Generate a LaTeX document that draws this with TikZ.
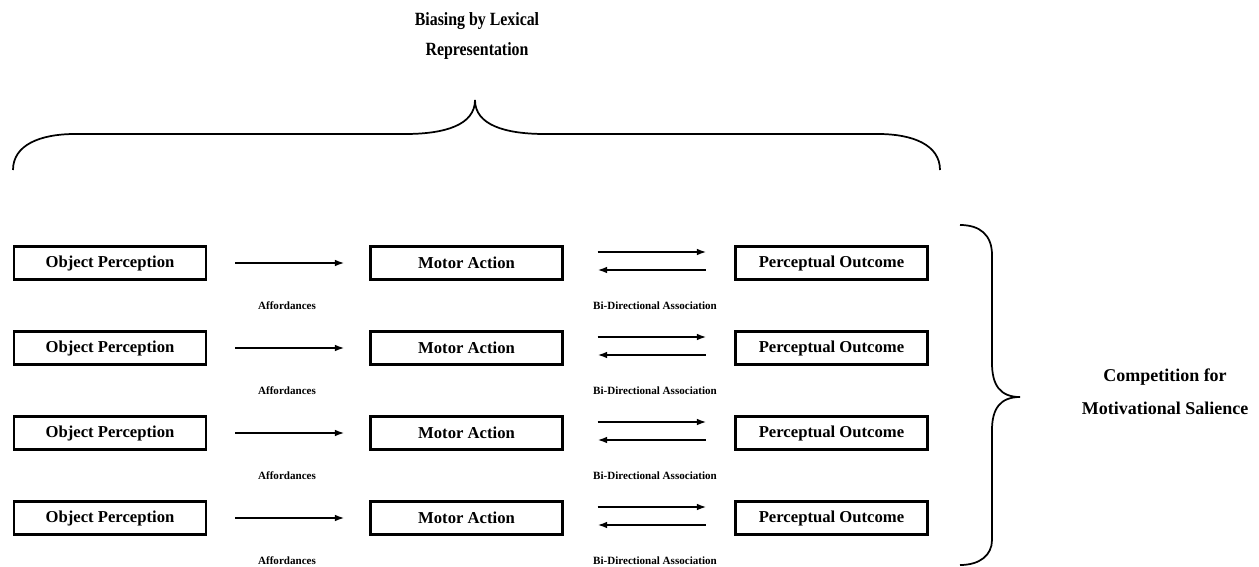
\documentclass[tikz,border=0pt]{standalone}
\usepackage{fontspec}
\setmainfont{Liberation Serif}
\newfontfamily\titlefont[FakeStretch=0.85]{Liberation Serif}
\usetikzlibrary{arrows.meta}

\begin{document}
\begin{tikzpicture}[x=0.75pt,y=-0.75pt,>={Latex[length=7pt,width=5pt]},
  blk/.style={draw,line width=1.8pt,minimum width=144pt,minimum height=24.5pt,inner sep=0pt,font=\fontsize{12.5pt}{14pt}\selectfont\bfseries},
  lbl/.style={font=\fontsize{8.3pt}{10pt}\selectfont\bfseries},
  conn/.style={line width=1.3pt}]
\useasboundingbox (0,0) rectangle (1259,567);

\node[align=center,font=\fontsize{14pt}{22.5pt}\selectfont\titlefont\bfseries] (bias) at (477,36) {Biasing by Lexical\\Representation};

% brace over the three columns
\draw[line width=1.3pt] (13,170) .. controls (13,145) and (40,134) .. (75,134) -- (405,134)
  .. controls (445,134) and (475,125) .. (475,100)
  .. controls (475,125) and (505,134) .. (545,134) -- (878,134)
  .. controls (913,134) and (940,145) .. (940,170);

\foreach \y [count=\i] in {263,348,433,518}
{
    \node[blk] (obj\i) at (110,\y) {Object Perception};
    \node[blk] (mot\i) at (466.5,\y) {Motor Action};
    \node[blk] (out\i) at (831.5,\y) {Perceptual Outcome};
    \draw[conn,->,shorten <=21pt,shorten >=18.75pt] (obj\i) -- (mot\i);
    \draw[conn,->,shorten <=25.5pt,shorten >=21pt] ([yshift=8.25pt]mot\i.east) -- ([yshift=8.25pt]out\i.west);
    \draw[conn,<-,shorten <=25.5pt,shorten >=21pt] ([yshift=-5.25pt]mot\i.east) -- ([yshift=-5.25pt]out\i.west);
    \node[lbl] (aff\i) at (287,{\y+43}) {Affordances};
    \node[lbl] (bid\i) at (655,{\y+43}) {Bi-Directional Association};
}

% brace beside the four rows
\draw[line width=1.3pt] (960,225) .. controls (980,225) and (992,235) .. (992,255) -- (992,363)
  .. controls (992,385) and (1000,397) .. (1020,397)
  .. controls (1000,397) and (992,409) .. (992,430) -- (992,540)
  .. controls (992,555) and (980,565) .. (960,565);

\node[align=center,font=\fontsize{13.5pt}{24.75pt}\selectfont\bfseries] (comp) at (1165,392) {Competition for\\Motivational Salience};
\end{tikzpicture}
\end{document}
